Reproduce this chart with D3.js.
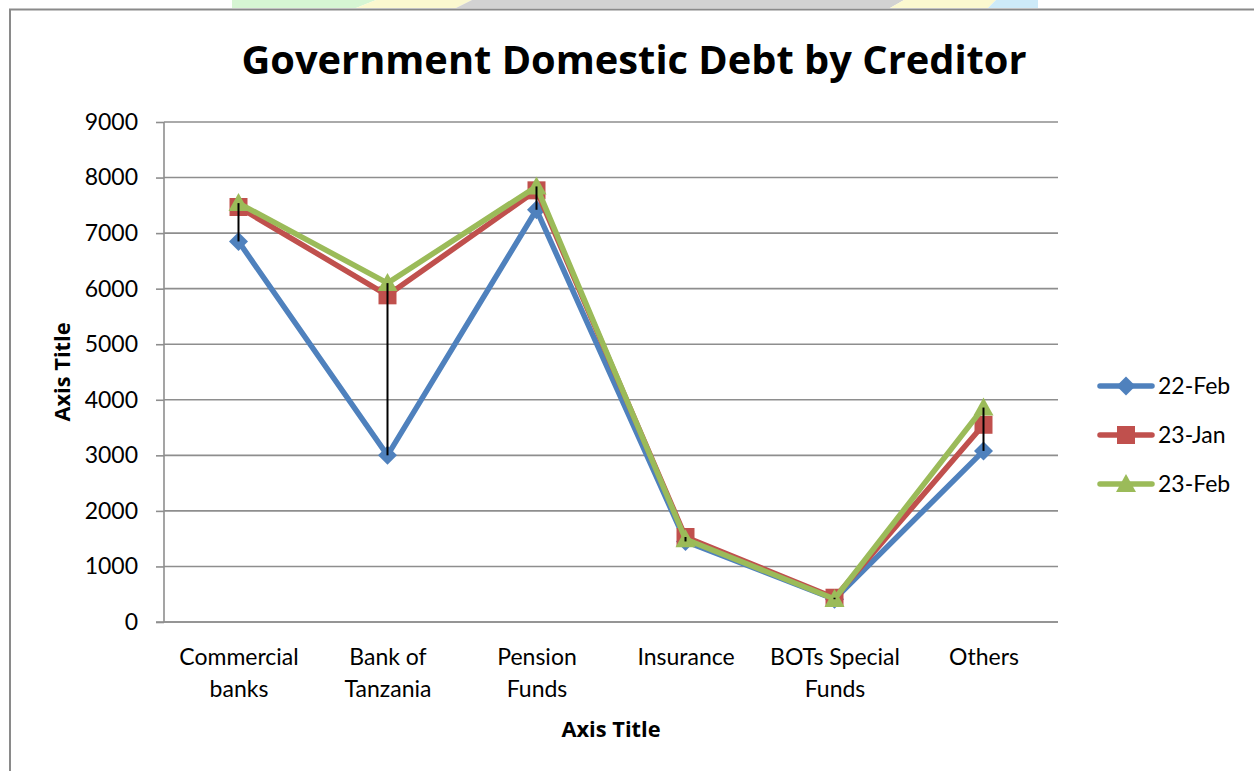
<!DOCTYPE html>
<html>
<head>
<meta charset="utf-8">
<script src="https://cdn.jsdelivr.net/npm/d3@7"></script>
<style>
  body { margin: 0; background: #fff; }
  svg { display: block; font-family: Lato, "Open Sans", sans-serif; }
  .title { font-family: "Open Sans", Lato, sans-serif; font-weight: bold; }
</style>
</head>
<body>
<div id="chart"></div>
<script>
// chart values
var categories = ["Commercial banks", "Bank of Tanzania", "Pension Funds", "Insurance", "BOTs Special Funds", "Others"];
var categoryLines = [["Commercial", "banks"], ["Bank of", "Tanzania"], ["Pension", "Funds"], ["Insurance"], ["BOTs Special", "Funds"], ["Others"]];
var seriesNames = ["22-Feb", "23-Jan", "23-Feb"];
var feb22 = [6850, 3000, 7420, 1450, 410, 3080];
var jan23 = [7470, 5880, 7770, 1530, 437, 3550];
var feb23 = [7540, 6100, 7840, 1490, 415, 3860];
var yTicks = [0, 1000, 2000, 3000, 4000, 5000, 6000, 7000, 8000, 9000];

var colors = ["#4f81bd", "#c0504d", "#9bbb59"];
var symbols = ["diamond", "square", "triangle"];
var seriesValues = [feb22, jan23, feb23];

var width = 1254, height = 771;
var plot = {left: 164, right: 1058, top: 122, bottom: 622};

var svg = d3.select("#chart")
  .append("svg")
    .attr("width", width)
    .attr("height", height);

// faint coloured strip behind the top edge (from the page behind the chart)
var strip = [
  {fill: "#d6f5d3", pts: [[232, 0], [376, 0], [356, 8], [232, 8]]},
  {fill: "#fbf8cf", pts: [[376, 0], [472, 0], [456, 8], [356, 8]]},
  {fill: "#d2d2d2", pts: [[472, 0], [904, 0], [890, 8], [456, 8]]},
  {fill: "#fbf8cf", pts: [[904, 0], [996, 0], [988, 8], [890, 8]]},
  {fill: "#cdeaf8", pts: [[996, 0], [1038, 0], [1038, 8], [988, 8]]}
];
svg.selectAll(".strip")
  .data(strip)
  .enter()
  .append("polygon")
    .attr("points", function(d) { return d.pts.map(function(p) { return p.join(","); }).join(" "); })
    .attr("fill", function(d) { return d.fill; });

// chart frame
svg.append("path")
  .attr("d", "M10," + height + "V9.5H" + width)
  .attr("fill", "none")
  .attr("stroke", "#8a8a8a")
  .attr("stroke-width", 2);

var x = d3.scalePoint()
  .domain(categories)
  .range([plot.left, plot.right])
  .padding(0.5);

var y = d3.scaleLinear()
  .domain([0, 9000])
  .range([plot.bottom, plot.top]);

// title
svg.append("text")
  .attr("class", "title")
  .attr("x", 634)
  .attr("y", 74)
  .attr("text-anchor", "middle")
  .style("font-size", "39.8px")
  .text("Government Domestic Debt by Creditor");

// gridlines
svg.append("g")
  .selectAll("line")
  .data(yTicks)
  .enter()
  .append("line")
    .attr("x1", plot.left)
    .attr("x2", plot.right)
    .attr("y1", function(d) { return y(d); })
    .attr("y2", function(d) { return y(d); })
    .attr("stroke", "#8e8e8e")
    .attr("stroke-width", 1.6);

// Y axis
var yAxis = svg.append("g")
  .attr("transform", "translate(" + plot.left + ",0)")
  .call(d3.axisLeft(y).tickValues(yTicks).tickSize(8).tickPadding(18).tickFormat(d3.format("d")));
yAxis.select(".domain").attr("stroke", "#8e8e8e").attr("stroke-width", 1.6).attr("d", "M0," + plot.bottom + "V" + plot.top);
yAxis.selectAll(".tick line").attr("stroke", "#8e8e8e").attr("stroke-width", 1.6);
yAxis.selectAll(".tick text")
  .attr("fill", "#000")
  .style("font-family", "Lato, sans-serif")
  .style("font-size", "23px");

// X axis
var xAxis = svg.append("g")
  .attr("transform", "translate(0," + plot.bottom + ")")
  .call(d3.axisBottom(x).tickSize(0).tickPadding(0));
xAxis.select(".domain").attr("stroke", "#8e8e8e").attr("stroke-width", 1.6).attr("d", "M" + (plot.left - 8) + ",0H" + plot.right);
xAxis.selectAll(".tick text").remove();
xAxis.selectAll(".tick").each(function(d, i) {
  var t = d3.select(this).append("text")
    .attr("fill", "#000")
    .attr("text-anchor", "middle")
    .style("font-family", "Lato, sans-serif")
    .style("font-size", "23px");
  categoryLines[i].forEach(function(line, j) {
    t.append("tspan").attr("x", 0).attr("y", 43 + j * 32).text(line);
  });
});

// axis titles
svg.append("text")
  .attr("class", "title")
  .attr("x", 611)
  .attr("y", 737)
  .attr("text-anchor", "middle")
  .style("font-size", "21.8px")
  .text("Axis Title");

svg.append("text")
  .attr("class", "title")
  .attr("transform", "translate(70,372) rotate(-90)")
  .attr("text-anchor", "middle")
  .style("font-size", "21.8px")
  .text("Axis Title");

function markerPath(kind) {
  if (kind == "diamond") return d3.symbol().type(d3.symbolSquare).size(180)();
  if (kind == "square") return d3.symbol().type(d3.symbolSquare).size(324)();
  return "M0,-10L10,8L-10,8Z";
}

var line = d3.line()
  .x(function(d, i) { return x(categories[i]); })
  .y(function(d) { return y(d); });

// series: line then markers
seriesValues.forEach(function(vals, s) {
  var g = svg.append("g");
  g.append("path")
    .datum(vals)
    .attr("d", line)
    .attr("fill", "none")
    .attr("stroke", colors[s])
    .attr("stroke-width", 5.5)
    .attr("stroke-linejoin", "round");
  g.selectAll(".marker")
    .data(vals)
    .enter()
    .append("path")
      .attr("d", markerPath(symbols[s]))
      .attr("transform", function(d, i) {
        var r = symbols[s] == "diamond" ? " rotate(45)" : "";
        return "translate(" + x(categories[i]) + "," + y(d) + ")" + r;
      })
      .attr("fill", colors[s]);
});

// high-low lines
svg.append("g")
  .selectAll("line")
  .data(categories)
  .enter()
  .append("line")
    .attr("x1", function(d) { return x(d); })
    .attr("x2", function(d) { return x(d); })
    .attr("y1", function(d, i) { return y(d3.max(seriesValues, function(v) { return v[i]; })); })
    .attr("y2", function(d, i) { return y(d3.min(seriesValues, function(v) { return v[i]; })); })
    .attr("stroke", "#000")
    .attr("stroke-width", 2);

// legend
var legend = svg.append("g")
  .attr("transform", "translate(1098,386)");
seriesNames.forEach(function(name, s) {
  var row = legend.append("g").attr("transform", "translate(0," + (s * 49) + ")");
  row.append("line")
    .attr("x1", 2).attr("x2", 54)
    .attr("stroke", colors[s])
    .attr("stroke-width", 5.5)
    .attr("stroke-linecap", "round");
  row.append("path")
    .attr("d", markerPath(symbols[s]))
    .attr("transform", "translate(28,0)" + (symbols[s] == "diamond" ? " rotate(45)" : ""))
    .attr("fill", colors[s]);
  row.append("text")
    .attr("x", 60)
    .attr("y", 8)
    .style("font-size", "23px")
    .text(name);
});
</script>
</body>
</html>
